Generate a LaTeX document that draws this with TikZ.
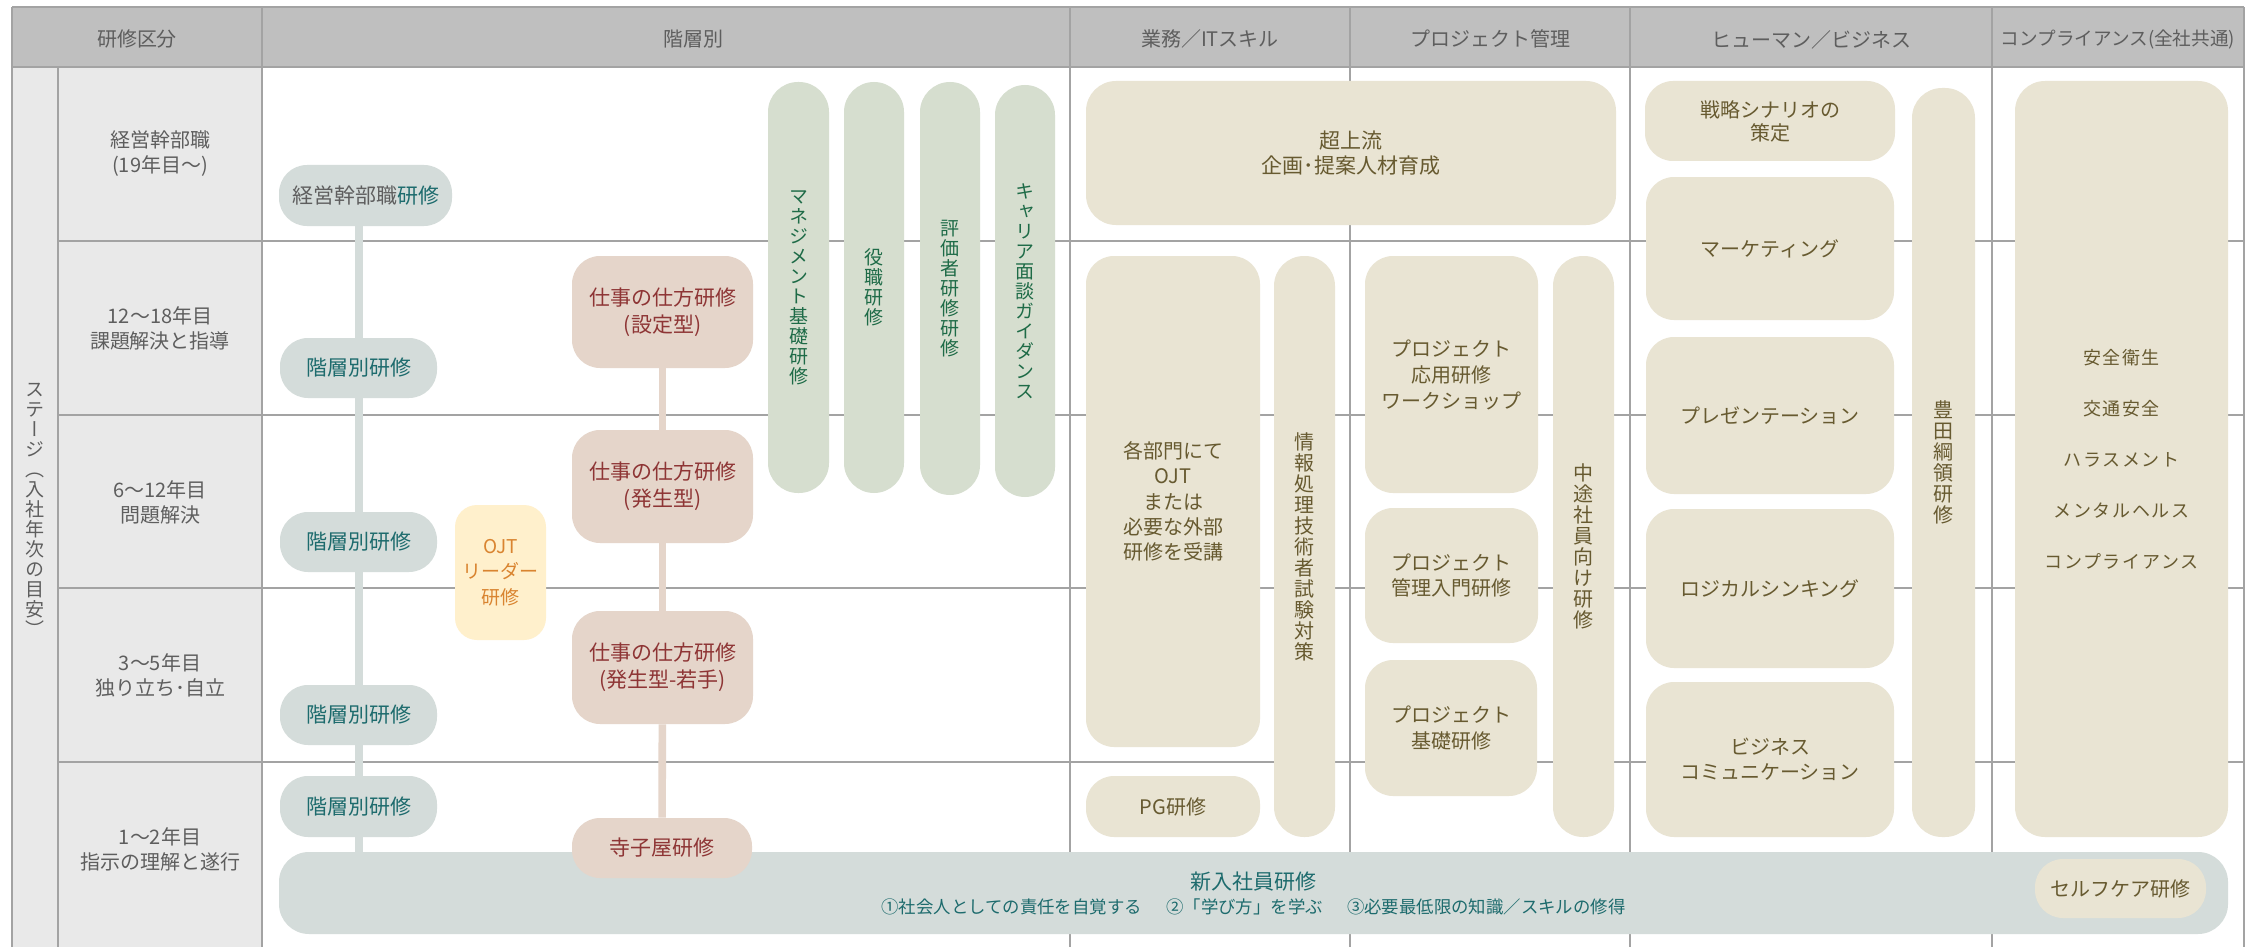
\documentclass[tikz,border=0pt]{standalone}
\usepackage{fontspec}
\setmainfont{Noto Sans CJK JP}
\newfontfamily\vjp[RawFeature={+vert}]{Noto Sans CJK JP}
\newfontfamily\cjp[LetterSpace=9]{Noto Sans CJK JP}
\definecolor{hdrfill}{HTML}{BFBFBF}
\definecolor{gridc}{HTML}{A3A3A3}
\definecolor{labfill}{HTML}{E9E9E9}
\definecolor{graytxt}{HTML}{5E5E5E}
\definecolor{tealfill}{HTML}{D4DCDA}
\definecolor{tealtxt}{HTML}{1D6B6D}
\definecolor{pinkfill}{HTML}{E5D5CA}
\definecolor{pinktxt}{HTML}{8E3535}
\definecolor{ojtfill}{HTML}{FFF0CC}
\definecolor{ojttxt}{HTML}{D98430}
\definecolor{greenfill}{HTML}{D6DECF}
\definecolor{greentxt}{HTML}{1E6B47}
\definecolor{beigefill}{HTML}{E9E4D3}
\definecolor{beigetxt}{HTML}{675A30}
\pgfdeclarelayer{gridlayer}
\pgfdeclarelayer{linklayer}
\pgfsetlayers{gridlayer,linklayer,main}
\begin{document}
\begin{tikzpicture}[x=0.5pt,y=-0.5pt,
 gridline/.style={draw=gridc, line width=0.75pt},
 basebox/.style={rounded corners=14pt, inner sep=0pt, align=center},
 tealbox/.style={basebox, fill=tealfill, text=tealtxt, font=\fontsize{10.5}{13}\selectfont},
 pinkbox/.style={basebox, fill=pinkfill, text=pinktxt, font=\fontsize{10.5}{13.5}\selectfont},
 ojtbox/.style={basebox, rounded corners=11pt, fill=ojtfill, text=ojttxt, font=\fontsize{9.5}{12.75}\selectfont},
 greenpill/.style={basebox, rounded corners=15pt, fill=greenfill, text=greentxt, font=\vjp\fontsize{9.5}{10}\selectfont},
 beigebox/.style={basebox, fill=beigefill, text=beigetxt, font=\fontsize{10}{12.6}\selectfont},
 beigepill/.style={basebox, rounded corners=15pt, fill=beigefill, text=beigetxt, font=\vjp\fontsize{10}{10.5}\selectfont},
 hdrtext/.style={text=graytxt, font=\fontsize{10}{12}\selectfont, inner sep=0pt},
 labtext/.style={text=graytxt, align=center, font=\fontsize{10}{12.5}\selectfont, inner sep=0pt},
 kline/.style={draw=tealfill, line width=4pt},
 pline/.style={draw=pinkfill, line width=3.8pt},
 sz/.style 2 args={minimum width=#1pt, minimum height=#2pt}
]
\useasboundingbox (0,0) rectangle (2249,947);

% ---------- grid ----------
\begin{pgfonlayer}{gridlayer}
\fill[white] (0,0) rectangle (2249,947);
\path[fill=hdrfill] (12,7) rectangle (2244,67);
\path[fill=labfill] (12,67) rectangle (262,947);
\draw[gridline] (12,7) -- (2244,7);
\foreach \x in {12,262,1070,1350,1630,1992,2244} \draw[gridline] (\x,7) -- (\x,947);
\draw[gridline] (58,67) -- (58,947);
\foreach \y in {241,415,588,762} \draw[gridline] (58,\y) -- (2244,\y);
\draw[draw=gridc, line width=1.3pt] (12,67) -- (2244,67);
\end{pgfonlayer}

% ---------- headers ----------
\node[hdrtext] (hd1) at (137,39) {研修区分};
\node[hdrtext] (hd2) at (693,39) {階層別};
\node[hdrtext] (hd3) at (1210,39) {業務／ITスキル};
\node[hdrtext] (hd4) at (1490,39) {プロジェクト管理};
\node[hdrtext] (hd5) at (1811,40) {ヒューマン／ビジネス};
\node[hdrtext, font=\fontsize{9.3}{12}\selectfont] (hd6) at (2118,39) {コンプライアンス(全社共通)};

% ---------- row labels ----------
\node[labtext] (r1) at (160,154) {経営幹部職\\(19年目〜)};
\node[labtext] (r2) at (160,328) {12〜18年目\\課題解決と指導};
\node[labtext] (r3) at (160,502) {6〜12年目\\問題解決};
\node[labtext] (r4) at (160,675) {3〜5年目\\独り立ち･自立};
\node[labtext] (r5) at (160,849) {1〜2年目\\指示の理解と遂行};
\node[labtext, font=\vjp\fontsize{9.5}{10}\selectfont] (stage) at (35,510)
  {ス\\テ\\ー\\ジ\\（\\入\\社\\年\\次\\の\\目\\安\\）};

% ---------- 階層別 ----------
\node[tealbox, sz={86.5}{30.5}] (k1) at (365.5,195.5) {{\color{graytxt}経営幹部職}研修};
\node[tealbox, sz={78.5}{30}] (k2) at (358.5,368) {階層別研修};
\node[tealbox, sz={78.5}{30}] (k3) at (358.5,542) {階層別研修};
\node[tealbox, sz={78.5}{30}] (k4) at (358.5,715) {階層別研修};
\node[tealbox, sz={78.5}{30.5}] (k5) at (358.5,806.5) {階層別研修};

\node[ojtbox, sz={45.5}{67.5}] (ojt) at (500.5,572.5) {OJT\\リーダー\\研修};

\node[pinkbox, sz={90.5}{56}] (s1) at (662.5,312) {仕事の仕方研修\\(設定型)};
\node[pinkbox, sz={90.5}{56.5}] (s2) at (662.5,486.5) {仕事の仕方研修\\(発生型)};
\node[pinkbox, sz={90.5}{56.5}] (s3) at (662.5,667.5) {仕事の仕方研修\\(発生型-若手)};

\node[greenpill, sz={30.5}{205.5}] (g1) at (798.5,287.5) {マ\\ネ\\ジ\\メ\\ン\\ト\\基\\礎\\研\\修};
\node[greenpill, sz={30}{205.5}] (g2) at (874,287.5) {役\\職\\研\\修};
\node[greenpill, sz={30}{206.5}] (g3) at (950,288.5) {評\\価\\者\\研\\修\\研\\修};
\node[greenpill, sz={30}{206}] (g4) at (1025,291) {キ\\ャ\\リ\\ア\\面\\談\\ガ\\イ\\ダ\\ン\\ス};

% ---------- 業務／IT ----------
\node[beigebox, rounded corners=15pt, sz={265}{72}, font=\fontsize{10.5}{12.6}\selectfont] (b1) at (1351,153) {超上流\\企画･提案人材育成};
\node[beigebox, sz={87}{245.5}] (b2) at (1173,501.5) {各部門にて\\OJT\\または\\必要な外部\\研修を受講};
\node[beigebox, sz={87}{30.5}] (b3) at (1173,806.5) {PG研修};
\node[beigepill, sz={30.5}{290.5}] (b4) at (1304.5,546.5) {情\\報\\処\\理\\技\\術\\者\\試\\験\\対\\策};

% ---------- プロジェクト ----------
\node[beigebox, sz={86.5}{118.5}, font=\fontsize{10}{13}\selectfont] (p1) at (1451.5,374.5) {プロジェクト\\応用研修\\ワークショップ};
\node[beigebox, sz={86.5}{67.5}] (p2) at (1451.5,575.5) {プロジェクト\\管理入門研修};
\node[beigebox, sz={86}{68}] (p3) at (1451,728) {プロジェクト\\基礎研修};
\node[beigepill, sz={30.5}{290.5}] (p4) at (1583.5,546.5) {中\\途\\社\\員\\向\\け\\研\\修};

% ---------- ヒューマン ----------
\node[beigebox, sz={125}{40}, font=\fontsize{10}{11.5}\selectfont] (h1) at (1770,121) {戦略シナリオの\\策定};
\node[beigebox, sz={124}{71.5}] (h2) at (1770,248.5) {マーケティング};
\node[beigebox, sz={124}{78.5}] (h3) at (1770,415.5) {プレゼンテーション};
\node[beigebox, sz={124}{79.5}] (h4) at (1770,588.5) {ロジカルシンキング};
\node[beigebox, sz={124}{77.5}] (h5) at (1770,759.5) {ビジネス\\コミュニケーション};
\node[beigepill, sz={31.5}{374.5}] (h6) at (1943.5,462.5) {豊\\田\\綱\\領\\研\\修};

% ---------- コンプライアンス ----------
\node[beigebox, rounded corners=15pt, sz={106.5}{378}, font=\cjp\fontsize{9}{25.5}\selectfont] (c1) at (2121.5,459)
  {安全衛生\\交通安全\\ハラスメント\\メンタルヘルス\\コンプライアンス};

% ---------- 新入社員 ----------
\node[tealbox, rounded corners=15pt, sz={974.5}{41}, font=\fontsize{10.5}{12}\selectfont] (n1) at (1253.5,893)
  {新入社員研修\\{\fontsize{8.7}{12}\selectfont ①社会人としての責任を自覚する\hspace{1.4em}②「学び方」を学ぶ\hspace{1.4em}③必要最低限の知識／スキルの修得}};
\node[beigebox, sz={85.5}{29.5}] (n2) at (2120.5,888.5) {セルフケア研修};
\node[pinkbox, sz={90}{30}] (s4) at (662,848) {寺子屋研修};

% ---------- connectors ----------
\begin{pgfonlayer}{linklayer}
\draw[kline] (k2 |- k1.south) -- (k2);
\draw[kline] (k2) -- (k3);
\draw[kline] (k3) -- (k4);
\draw[kline] (k4) -- (k5);
\draw[kline] (k5) -- (k5 |- n1.north);
\draw[pline] (s1) -- (s2);
\draw[pline] (s2) -- (s3);
\draw[pline] (s3) -- (s4);
\end{pgfonlayer}
\end{tikzpicture}
\end{document}
